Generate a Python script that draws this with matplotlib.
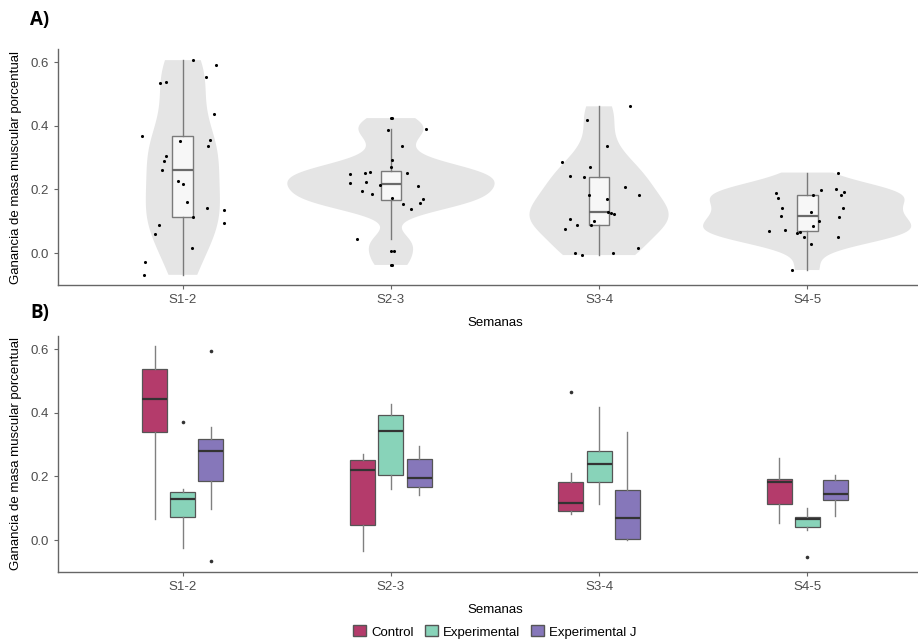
import matplotlib
matplotlib.use("Agg")
import matplotlib.pyplot as plt
import numpy as np
from matplotlib import cbook
from matplotlib.patches import Patch

plt.rcParams["font.family"] = ["Liberation Sans", "DejaVu Sans"]

weeks = ["S1-2", "S2-3", "S3-4", "S4-5"]

# panel A: individual values per week
s12 = [0.606, 0.592, 0.554, 0.533, 0.537, 0.437, 0.369, 0.355, 0.336, 0.353,
       0.304, 0.290, 0.262, 0.226, 0.217, 0.160, 0.136, 0.142, 0.113, 0.094,
       0.087, 0.061, 0.016, -0.028, -0.068]
s23 = [0.424, 0.386, 0.391, 0.338, 0.292, 0.269, 0.255, 0.249, 0.251, 0.251,
       0.224, 0.215, 0.221, 0.210, 0.194, 0.185, 0.171, 0.173, 0.159, 0.153,
       0.139, 0.043, 0.008, -0.037]
s34 = [0.461, 0.418, 0.338, 0.286, 0.269, 0.239, 0.241, 0.208, 0.182, 0.184,
       0.171, 0.128, 0.126, 0.124, 0.107, 0.102, 0.088, 0.088, 0.076, 0.015,
       0.002, 0.001, -0.006]
s45 = [0.253, 0.199, 0.188, 0.201, 0.193, 0.182, 0.184, 0.173, 0.142, 0.142,
       0.128, 0.118, 0.115, 0.102, 0.086, 0.063, 0.067, 0.074, 0.071, 0.051,
       0.051, 0.029, -0.053]
week_data = [s12, s23, s34, s45]

# panel B: box statistics per group (whislo, q1, med, q3, whishi, fliers)
groups = ["Control", "Experimental", "Experimental J"]
group_colors = ["#B43B6B", "#88D3B9", "#8677BA"]
control_stats = [
    (0.065, 0.339, 0.442, 0.537, 0.610, []),
    (-0.034, 0.047, 0.219, 0.251, 0.272, []),
    (0.082, 0.090, 0.117, 0.182, 0.212, [0.464]),
    (0.055, 0.113, 0.182, 0.192, 0.257, []),
]
experimental_stats = [
    (-0.025, 0.073, 0.130, 0.150, 0.161, [0.370]),
    (0.162, 0.205, 0.343, 0.392, 0.427, []),
    (0.113, 0.184, 0.240, 0.279, 0.418, []),
    (0.031, 0.040, 0.065, 0.073, 0.102, [-0.053]),
]
experimental_j_stats = [
    (0.098, 0.186, 0.280, 0.319, 0.356, [0.593, -0.064]),
    (0.143, 0.168, 0.196, 0.254, 0.295, []),
    (0.000, 0.003, 0.070, 0.159, 0.341, []),
    (0.075, 0.126, 0.146, 0.188, 0.205, []),
]
group_stats = [control_stats, experimental_stats, experimental_j_stats]


def kde_nrd0(x, coords):
    x = np.asarray(x)
    n = len(x)
    iqr = np.subtract(*np.percentile(x, [75, 25]))
    bw = 0.9 * min(x.std(ddof=1), iqr / 1.34) * n ** -0.2
    z = (coords[:, None] - x[None, :]) / bw
    return np.exp(-0.5 * z ** 2).sum(axis=1) / (n * bw * np.sqrt(2 * np.pi))


def style_axes(ax):
    for side in ["top", "right"]:
        ax.spines[side].set_visible(False)
    for side in ["left", "bottom"]:
        ax.spines[side].set_color("#666666")
        ax.spines[side].set_linewidth(1.0)
    ax.set_xlim(0.4, 4.6)
    ax.set_ylim(-0.10, 0.641)
    ax.set_yticks([0.0, 0.2, 0.4, 0.6])
    ax.set_yticklabels(["0.0", "0.2", "0.4", "0.6"])
    ax.set_xticks(range(1, 5))
    ax.set_xticklabels(weeks)
    ax.tick_params(colors="#666666", labelcolor="#4D4D4D", labelsize=9.5,
                   length=3, width=0.8)
    ax.set_xlabel("Semanas", fontsize=9.5, labelpad=8)
    ax.set_ylabel("Ganancia de masa muscular porcentual", fontsize=9.5,
                  labelpad=6)


fig = plt.figure(figsize=(9.18, 6.42), dpi=100)
ax_w = (932 - 58) / 918
ax_a = fig.add_axes([58 / 918, 1 - 285 / 642, ax_w, 236 / 642])
ax_b = fig.add_axes([58 / 918, 1 - 572 / 642, ax_w, 236 / 642])

# --- panel A: violins + boxplots + jitter
pos = np.arange(1, 5)
vstats = cbook.violin_stats(week_data, kde_nrd0, points=300)
peaks = [v["vals"].max() for v in vstats]
vwidths = [1.0 * p / max(peaks) for p in peaks]
parts = ax_a.violin(vstats, positions=pos, widths=vwidths,
                    showmeans=False, showextrema=False, showmedians=False)
for body in parts["bodies"]:
    body.set_facecolor("#E5E5E5")
    body.set_edgecolor("none")
    body.set_alpha(1)

ax_a.boxplot(week_data, positions=pos, widths=0.1, patch_artist=True,
             showcaps=False, whis=1.5,
             boxprops=dict(facecolor="#F7F7F7", edgecolor="#7A7A7A", linewidth=1),
             whiskerprops=dict(color="#7A7A7A", linewidth=1),
             medianprops=dict(color="#6A6A6A", linewidth=1.6),
             flierprops=dict(marker="o", markersize=2.2, markerfacecolor="black",
                             markeredgecolor="none"))

rng = np.random.default_rng(7)
for p, vals in zip(pos, week_data):
    xj = p + rng.uniform(-0.2, 0.2, len(vals))
    ax_a.scatter(xj, vals, s=5, color="black", zorder=4, linewidths=0)

style_axes(ax_a)

# --- panel B: grouped boxplots
offsets = [-0.135, 0.0, 0.135]
for g, (stats, color, off) in enumerate(zip(group_stats, group_colors, offsets)):
    bxp_stats = []
    for lo, q1, med, q3, hi, fl in stats:
        bxp_stats.append(dict(whislo=lo, q1=q1, med=med, q3=q3, whishi=hi,
                              fliers=fl))
    ax_b.bxp(bxp_stats, positions=pos + off, widths=0.12, patch_artist=True,
             showcaps=False,
             boxprops=dict(facecolor=color, edgecolor="#555555", linewidth=0.9),
             whiskerprops=dict(color="#808080", linewidth=1),
             medianprops=dict(color="#333333", linewidth=1.6),
             flierprops=dict(marker="o", markersize=2.6, markerfacecolor="#333333",
                             markeredgecolor="none"))

style_axes(ax_b)

fig.text(30 / 918, 1 - 20 / 642, "A)", fontsize=13.5, fontweight="bold",
         family=["Open Sans", "DejaVu Sans"], va="center")
fig.text(30 / 918, 1 - 313 / 642, "B)", fontsize=13.5, fontweight="bold",
         family=["Open Sans", "DejaVu Sans"], va="center")

handles = [Patch(facecolor=c, edgecolor="#555555", label=g)
           for g, c in zip(groups, group_colors)]
fig.legend(handles=handles, loc="center", ncol=3, frameon=False,
           bbox_to_anchor=(495 / 918, 1 - 632 / 642), fontsize=9.5,
           handlelength=1.0, handleheight=0.9, handletextpad=0.4,
           columnspacing=0.8)

fig.savefig("out.png", dpi=100)
